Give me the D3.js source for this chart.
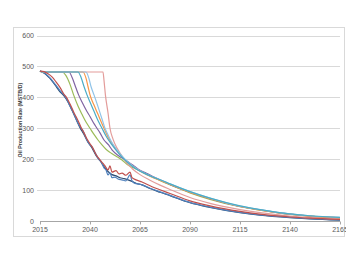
<!DOCTYPE html>
<html lang="en">
<head>
    <meta charset="UTF-8">
    <title>Oil Production Rate</title>
    <script src="https://d3js.org/d3.v7.min.js"></script>
    <style>
        body { margin: 0; background: #fff; font-family: "Liberation Sans", Arial, sans-serif; }
        .tick-label { font-size: 7px; fill: #595959; }
        .grid line { stroke: #d9d9d9; shape-rendering: crispEdges; }
        .series { fill: none; stroke-width: 1.2px; }
    </style>
</head>
<body>
<svg id="chart"></svg>
<script>
    // tick labels
    const yearTicks = [2015, 2040, 2065, 2090, 2115, 2140, 2165];
    const rateTicks = [0, 100, 200, 300, 400, 500, 600];

    // series: [year, rate MSTB/D]
    const navyRate = [[2015,485],[2016,482],[2018,474],[2020,461],[2022.5,440],[2025,418],[2027,405],[2029,385],[2031,358],[2033,330],[2035,302],[2037,280],[2039,255],[2041,236],[2043,212],[2045,195],[2047,176],[2049,160],[2051,150],[2053,146],[2055,140],[2057,137],[2059,133],[2061,128],[2063,122],[2066,117],[2070,105],[2075,93],[2080,82],[2090,59],[2100,44],[2115,27],[2125,19],[2140,11],[2150,7],[2165,3]];
    const blueRate = [[2015,485],[2016,483],[2018,475],[2020,463],[2022.5,443],[2025,422],[2027,408],[2028.5,392],[2030,372],[2031,360],[2032.5,338],[2034,316],[2035.5,300],[2036.5,292],[2038,268],[2040,246],[2041,240],[2042.5,222],[2044.3,200],[2045.5,192],[2047,172],[2048,165],[2049,149],[2050,156],[2051,140],[2052.5,142],[2054,136],[2056,133],[2058,130],[2060,149],[2061,130],[2062,123],[2066,117],[2070,106],[2075,94],[2080,83],[2090,60],[2100,45],[2115,28],[2125,20],[2140,12],[2150,8],[2165,4]];
    const redRate = [[2015,485],[2017,483],[2019,476],[2021,466],[2023,450],[2025,432],[2027,410],[2028,402],[2029.5,385],[2031,365],[2032,350],[2033,338],[2034.5,318],[2035.5,303],[2037,285],[2038.5,265],[2040,250],[2041.5,235],[2043,215],[2044.5,202],[2046,190],[2047.5,178],[2049,165],[2050,178],[2051,158],[2053,163],[2054.5,152],[2056,155],[2058,148],[2060,158],[2061,140],[2063,133],[2066,126],[2071,111],[2075,101],[2080,89],[2090,65],[2100,49],[2115,31],[2125,22],[2140,13],[2150,9],[2165,5]];
    const greenRate = [[2015,485],[2016,482],[2026,482],[2028,470],[2030,442],[2031.8,408],[2034,372],[2036,345],[2038,320],[2040,300],[2042,280],[2044,262],[2046,246],[2048,232],[2050,222],[2053.5,208],[2056,197],[2059,181],[2063,168],[2067.5,155],[2072,140],[2076,128],[2080,117],[2090,91],[2100,70],[2115,46],[2125,35],[2140,21],[2150,16],[2165,10]];
    const purpleRate = [[2015,485],[2016,482],[2029.5,482],[2031,465],[2033,430],[2034.3,408],[2036,385],[2038,360],[2040,338],[2042,315],[2043.5,300],[2045,285],[2047,262],[2049.3,246],[2051,230],[2052.7,219],[2055,208],[2057,200],[2059,192],[2062,178],[2065,164],[2068,155],[2072,142],[2076,130],[2080,118],[2090,93],[2100,72],[2115,47],[2125,36],[2140,22],[2150,16],[2165,11]];
    const tealRate = [[2015,485],[2016,482],[2034,482],[2035.5,465],[2037,435],[2038.5,408],[2040,385],[2042,355],[2044,325],[2046,300],[2048,275],[2051,246],[2054.3,219],[2057,200],[2060,183],[2062.7,170],[2066,158],[2071,143],[2076,131],[2080,120],[2090,95],[2100,74],[2115,49],[2125,37],[2140,23],[2150,17],[2165,12]];
    const orangeRate = [[2015,485],[2016,482],[2036.5,482],[2038,462],[2039,435],[2040,408],[2042,375],[2044,345],[2045.5,322],[2047,300],[2049,272],[2051.5,246],[2054.5,220],[2057,202],[2060,184],[2063,170],[2066,158],[2071,142],[2076,129],[2080,118],[2090,92],[2100,72],[2115,47],[2125,35],[2140,22],[2150,16],[2165,11]];
    const lightBlueRate = [[2015,485],[2016,482],[2038,482],[2039.5,460],[2040.5,435],[2042,408],[2044,370],[2046,330],[2047.5,300],[2049.5,272],[2051.5,248],[2054.5,222],[2057,203],[2060,185],[2063,171],[2066,159],[2071,144],[2076,131],[2080,120],[2090,95],[2100,74],[2115,48],[2125,37],[2140,23],[2150,17],[2165,12]];
    const pinkRate = [[2015,485],[2016,482],[2046.5,482],[2047,455],[2047.7,408],[2049,350],[2050,300],[2051.5,265],[2053.5,236],[2055,220],[2057,200],[2059,183],[2061,170],[2065,150],[2070,132],[2075,116],[2080,102],[2090,76],[2100,57],[2115,37],[2125,27],[2140,16],[2150,11],[2165,6]];

    const series = [
        { data: navyRate, color: "#2c4d75" },
        { data: blueRate, color: "#4f81bd" },
        { data: greenRate, color: "#9bbb59" },
        { data: purpleRate, color: "#8064a2" },
        { data: pinkRate, color: "#e39c9a" },
        { data: orangeRate, color: "#f79646" },
        { data: lightBlueRate, color: "#8fc3e8" },
        { data: tealRate, color: "#4bacc6" },
        { data: redRate, color: "#c0504d" }
    ];

    const width = 359, height = 256;
    const svg = d3.select("#chart").attr("width", width).attr("height", height);

    svg.append("defs").append("clipPath").attr("id", "frame")
        .append("rect").attr("x", 0).attr("y", 0).attr("width", 346).attr("height", height);

    const root = svg.append("g").attr("clip-path", "url(#frame)");

    // outer chart border
    root.append("rect")
        .attr("x", 13.5).attr("y", 27.5)
        .attr("width", 331).attr("height", 209)
        .attr("fill", "none").attr("stroke", "#d9d9d9");

    const x = d3.scaleLinear().domain([2015, 2165]).range([40, 340]);
    const y = d3.scaleLinear().domain([0, 600]).range([221, 35.5]);

    // horizontal gridlines
    root.append("g").attr("class", "grid")
        .selectAll("line")
        .data(rateTicks.filter(d => d > 0))
        .enter().append("line")
        .attr("x1", 37).attr("x2", 340)
        .attr("y1", d => Math.round(y(d)) + 0.5).attr("y2", d => Math.round(y(d)) + 0.5);

    // y tick labels
    root.selectAll(".ylab")
        .data(rateTicks)
        .enter().append("text")
        .attr("class", "tick-label")
        .attr("x", 34).attr("y", d => y(d) + 2.5)
        .attr("text-anchor", "end")
        .text(d => d);

    // x axis
    const xAxis = root.append("g").attr("transform", "translate(0,221)");
    xAxis.append("line").attr("x1", 40).attr("x2", 340).attr("y1", 0.5).attr("y2", 0.5)
        .attr("stroke", "#a6a6a6");
    xAxis.selectAll(".xt").data(yearTicks).enter().append("line")
        .attr("x1", d => Math.round(x(d)) + 0.5).attr("x2", d => Math.round(x(d)) + 0.5)
        .attr("y1", 0.5).attr("y2", 3.5).attr("stroke", "#a6a6a6");
    xAxis.selectAll(".xlab").data(yearTicks).enter().append("text")
        .attr("class", "tick-label")
        .attr("x", d => x(d)).attr("y", 10.5)
        .attr("text-anchor", "middle")
        .text(d => d);

    // y axis title
    root.append("text")
        .attr("transform", "translate(22,120) rotate(-90)")
        .attr("text-anchor", "middle")
        .style("font-size", "5.3px").style("font-weight", "bold").style("fill", "#404040")
        .text("Oil Production Rate (MSTB/D)");

    const line = d3.line()
        .x(d => x(d[0]))
        .y(d => y(d[1]))
        .curve(d3.curveMonotoneX);

    root.selectAll(".series")
        .data(series)
        .enter().append("path")
        .attr("class", "series")
        .attr("stroke", d => d.color)
        .attr("d", d => line(d.data));
</script>
</body>
</html>
